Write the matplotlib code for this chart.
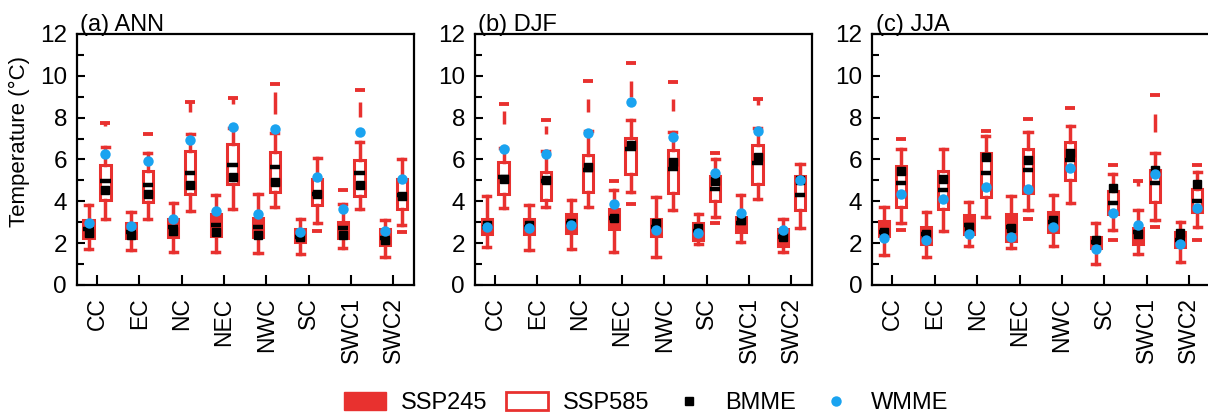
import numpy as np
import matplotlib
matplotlib.use('Agg')
import matplotlib.pyplot as plt
from matplotlib.patches import Patch
from matplotlib.lines import Line2D

plt.rcParams['font.family'] = ['Liberation Sans', 'DejaVu Sans']

RED = '#e8312f'
BLUE = '#1aa3f0'

regions = ['CC', 'EC', 'NC', 'NEC', 'NWC', 'SC', 'SWC1', 'SWC2']
titles = ['(a) ANN', '(b) DJF', '(c) JJA']

# box stats per region: whisker low, q1, median, q3, whisker high
ann_245 = [[1.71, 2.22, 2.65, 3.10, 3.81], [1.67, 2.22, 2.52, 2.98, 3.49],
           [1.59, 2.30, 2.75, 3.17, 3.92], [1.59, 2.33, 2.86, 3.38, 4.29],
           [1.51, 2.30, 2.78, 3.22, 4.37], [1.48, 2.03, 2.30, 2.67, 3.13],
           [1.75, 2.22, 2.70, 3.02, 3.89], [1.32, 1.90, 2.22, 2.65, 3.10]]
ann_585 = [[3.14, 4.08, 4.95, 5.71, 6.60], [3.16, 3.97, 4.76, 5.44, 6.30],
           [3.54, 4.37, 5.35, 6.38, 7.20], [3.65, 4.81, 5.75, 6.75, 7.50],
           [3.73, 4.44, 5.63, 6.35, 7.25], [2.94, 3.81, 4.37, 5.08, 6.06],
           [3.65, 4.25, 5.35, 5.95, 6.83], [2.86, 3.65, 4.29, 5.05, 6.00]]
djf_245 = [[1.79, 2.43, 2.78, 3.17, 4.24], [1.67, 2.43, 2.78, 3.14, 3.84],
           [1.70, 2.46, 2.97, 3.41, 4.05], [1.59, 2.67, 3.21, 3.65, 4.52],
           [1.35, 2.35, 2.78, 3.17, 4.21], [1.95, 2.14, 2.57, 2.97, 3.38],
           [2.03, 2.54, 2.98, 3.25, 4.32], [1.59, 1.86, 2.27, 2.65, 3.17]]
djf_585 = [[3.68, 4.37, 5.16, 5.87, 6.55], [3.73, 4.05, 4.97, 5.40, 6.40],
           [3.73, 4.44, 5.51, 6.19, 7.38], [4.44, 5.32, 6.51, 7.03, 7.89],
           [3.57, 4.40, 5.56, 6.46, 7.30], [3.25, 4.02, 4.60, 5.21, 6.03],
           [4.13, 4.81, 5.83, 6.71, 7.50], [2.70, 3.57, 4.32, 5.21, 5.78]]
jja_245 = [[1.43, 2.33, 2.54, 3.06, 3.73], [1.35, 1.98, 2.43, 2.78, 3.49],
           [1.86, 2.43, 2.86, 3.33, 3.97], [1.75, 2.11, 2.78, 3.38, 4.25],
           [1.86, 2.54, 3.02, 3.49, 4.29], [0.98, 1.75, 2.06, 2.27, 2.98],
           [1.48, 1.98, 2.54, 2.70, 3.57], [1.11, 1.83, 2.14, 2.51, 3.02]]
jja_585 = [[2.94, 3.73, 4.87, 5.67, 6.51], [2.59, 3.62, 4.56, 5.44, 6.48],
           [3.25, 4.21, 5.37, 6.30, 7.14], [3.57, 4.40, 5.48, 6.51, 7.30],
           [3.92, 5.03, 5.95, 6.83, 7.62], [2.62, 3.41, 3.94, 4.48, 5.32],
           [3.10, 3.97, 4.89, 5.48, 6.30], [2.78, 3.49, 4.02, 4.57, 5.40]]

# ensemble means
ann_245_bmme = [2.46, 2.41, 2.57, 2.54, 2.41, 2.27, 2.38, 2.14]
ann_245_wmme = [2.98, 2.83, 3.14, 3.52, 3.40, 2.51, 3.62, 2.59]
ann_585_bmme = [4.52, 4.33, 4.79, 5.16, 4.92, 4.33, 4.76, 4.25]
ann_585_wmme = [6.27, 5.92, 6.95, 7.54, 7.46, 5.16, 7.30, 5.08]
djf_245_bmme = [2.86, 2.86, 2.94, 3.22, 2.97, 2.73, 3.10, 2.30]
djf_245_wmme = [2.75, 2.73, 2.86, 3.89, 2.62, 2.46, 3.44, 2.62]
djf_585_bmme = [5.08, 5.03, 5.63, 6.70, 5.87, 4.95, 6.11, 5.00]
djf_585_wmme = [6.51, 6.27, 7.27, 8.76, 7.06, 5.35, 7.38, 5.00]
jja_245_bmme = [2.54, 2.45, 2.78, 2.70, 3.10, 2.17, 2.43, 2.46]
jja_245_wmme = [2.22, 2.14, 2.43, 2.30, 2.78, 1.70, 2.86, 1.95]
jja_585_bmme = [5.44, 5.05, 6.11, 5.95, 6.32, 4.65, 5.48, 4.81]
jja_585_wmme = [4.37, 4.10, 4.68, 4.60, 5.59, 3.46, 5.29, 3.68]

# outliers (dashes) and dense outlier runs (low, high) per region
ann_245_out = [[], [], [], [], [], [], [4.56], []]
ann_585_out = [[7.75], [7.20], [8.76], [8.95], [9.62], [2.59], [9.30], [2.54]]
ann_585_run = [(7.58, 7.75), None, (8.25, 8.76), (8.65, 8.95), (8.17, 9.21), None, (8.02, 8.73), None]
djf_245_out = [[], [], [], [4.97], [], [], [], []]
djf_585_out = [[8.65], [7.88], [9.75], [10.60, 3.89], [9.70], [6.33, 2.94], [8.90], []]
djf_585_run = [(7.70, 8.33), (7.22, 7.62), (8.25, 8.89), (8.97, 9.76), (8.33, 8.89), None, (8.62, 8.90), None]
jja_245_out = [[], [], [], [], [], [], [4.95], []]
jja_245_run = [None, None, None, None, None, None, (4.73, 4.95), None]
jja_585_out = [[6.97, 2.62], [], [7.38], [7.95, 3.17], [8.45], [5.75, 2.14], [9.10, 2.78], [5.75, 2.17]]
jja_585_run = [None, None, None, None, None, None, (7.30, 8.17), None]

no_run = [None] * 8


def drawBoxes(ax, stats, bmme, wmme, outs, runs, pos, filled):
    boxes = [dict(whislo=s[0], q1=s[1], med=s[2], q3=s[3], whishi=s[4], fliers=[])
             for s in stats]
    face = RED if filled else 'white'
    ax.bxp(boxes, positions=pos, widths=0.24, patch_artist=True, showfliers=False,
           manage_ticks=False, capwidths=0.17,
           boxprops=dict(facecolor=face, edgecolor=RED, linewidth=2.2),
           whiskerprops=dict(color=RED, linewidth=2.5),
           capprops=dict(color=RED, linewidth=2.5),
           medianprops=dict(color='black', linewidth=3.2))
    for p, o, r in zip(pos, outs, runs):
        if r is not None:
            ax.vlines(p, r[0], r[1], color=RED, linewidth=2.5, zorder=3)
        if len(o) > 0:
            ax.plot([p] * len(o), o, ls='none', marker='_', ms=6.5, mew=2.8, color=RED, zorder=3)
    ax.plot(pos, bmme, ls='none', marker='s', ms=6, color='black', zorder=4)
    ax.plot(pos, wmme, ls='none', marker='o', ms=7.5, mec='none', color=BLUE, zorder=5)


panels = [
    (ann_245, ann_245_bmme, ann_245_wmme, ann_245_out, no_run,
     ann_585, ann_585_bmme, ann_585_wmme, ann_585_out, ann_585_run),
    (djf_245, djf_245_bmme, djf_245_wmme, djf_245_out, no_run,
     djf_585, djf_585_bmme, djf_585_wmme, djf_585_out, djf_585_run),
    (jja_245, jja_245_bmme, jja_245_wmme, jja_245_out, jja_245_run,
     jja_585, jja_585_bmme, jja_585_wmme, jja_585_out, jja_585_run),
]

fig = plt.figure(figsize=(12.08, 4.19), dpi=100)
lefts = [0.0635, 0.393, 0.722]
x = np.arange(len(regions))

for i, (left, panel) in enumerate(zip(lefts, panels)):
    ax = fig.add_axes([left, 0.32, 0.279, 0.599])
    drawBoxes(ax, *panel[:5], x - 0.2, True)
    drawBoxes(ax, *panel[5:], x + 0.2, False)

    ax.set_xlim(-0.48, 7.48)
    ax.set_ylim(0, 12)
    ax.set_xticks(x)
    ax.set_xticklabels(regions, rotation=90, fontsize=16.5)
    ax.set_yticks(np.arange(0, 13, 2))
    ax.set_yticks(np.arange(1, 12, 2), minor=True)
    ax.tick_params(axis='y', which='major', direction='in', length=6, width=1.5,
                   labelsize=17.5, pad=7)
    ax.tick_params(axis='y', which='minor', direction='in', length=5, width=1.5)
    ax.tick_params(axis='x', direction='in', length=7, width=1.5, pad=9)
    for sp in ax.spines.values():
        sp.set_linewidth(1.6)
    ax.text(0.01, 1.012, titles[i], transform=ax.transAxes, fontsize=17,
            ha='left', va='baseline')
    if i == 0:
        ax.set_ylabel('Temperature (°C)', fontsize=16)
        ax.yaxis.set_label_coords(-0.14, 0.57)

handles = [Patch(facecolor=RED, edgecolor=RED),
           Patch(facecolor='white', edgecolor=RED, linewidth=2),
           Line2D([], [], ls='none', marker='s', ms=6, color='black'),
           Line2D([], [], ls='none', marker='o', ms=7.5, mec='none', color=BLUE)]
fig.legend(handles, ['SSP245', 'SSP585', 'BMME', 'WMME'], loc='center',
           bbox_to_anchor=(0.535, 0.038), ncol=4, frameon=False, fontsize=17,
           handlelength=1.8, handleheight=0.8, handletextpad=0.6, columnspacing=0.8)

fig.savefig('out.png', dpi=100)
